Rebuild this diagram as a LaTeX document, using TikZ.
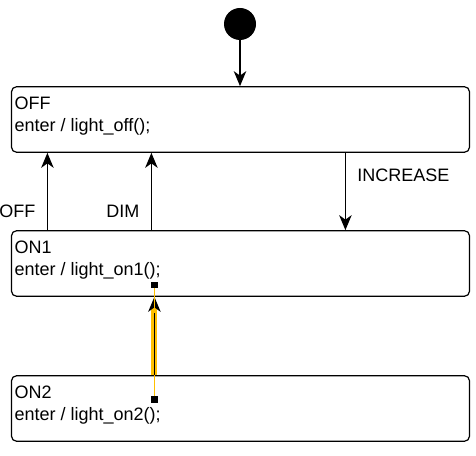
\documentclass[tikz,border=0pt]{standalone}
\usepackage{fontspec}
\setmainfont{Liberation Sans}
\usetikzlibrary{arrows.meta}
\definecolor{selyellow}{RGB}{255,192,0}

\begin{document}
\begin{tikzpicture}[x=1pt, y=1pt, every node/.style={font=\fontsize{18}{22}\selectfont},
    state/.style={draw, line width=1.2pt, rounded corners=5pt, minimum width=458pt, minimum height=65.5pt},
    statetext/.style={anchor=north west, inner sep=0pt, align=left},
    trans/.style={line width=1.3pt, -{Stealth[length=15pt, width=12.5pt, inset=4.5pt]}},
    handle/.style={fill=black, inner sep=0pt, minimum size=6.5pt}]
            \useasboundingbox (0,0) rectangle (476,455);

            \node[circle, fill=black, inner sep=0pt, minimum size=32pt] (init) at (240,431) {};

            \node[state] (off) at (240.5,335.5) {};
            \node[statetext] (off-txt) at ([shift={(3.5pt,-10.5pt)}]off.north west) {OFF\\enter / light\_off();};
            \node[state] (on1) at (240.5,191.5) {};
            \node[statetext] (on1-txt) at ([shift={(3.5pt,-10.5pt)}]on1.north west) {ON1\\enter / light\_on1();};
            \node[state] (on2) at (240.5,46.5) {};
            \node[statetext] (on2-txt) at ([shift={(3.5pt,-10.5pt)}]on2.north west) {ON2\\enter / light\_on2();};

            \draw[trans] (init) -- (init |- off.north);
            \draw[trans] ([xshift=36.5pt]on1.north west) -- ([xshift=36.5pt]off.south west)
               node[pos=0.24, left=8pt] (off-lbl) {OFF};
            \draw[trans] ([xshift=140.5pt]on1.north west) -- ([xshift=140.5pt]off.south west)
               node[pos=0.24, left=8pt] (dim-lbl) {DIM};
            \draw[trans] ([xshift=334.5pt]off.south west) -- ([xshift=334.5pt]on1.north west)
               node[pos=0.29, right=8pt] (inc-lbl) {INCREASE};

            % selected edge
            \coordinate (sel-top) at ([xshift=143.5pt]on1.south west);
            \coordinate (sel-bot) at ([xshift=143.5pt]on2.north west);
            \draw[selyellow, line width=6pt] (sel-bot) -- ([yshift=-11pt]sel-top);
            \draw[trans] (sel-bot) -- (sel-top);
            \draw[selyellow, line width=1pt] ([yshift=12pt]sel-top) -- ([yshift=-16pt]sel-top);
            \draw[selyellow, line width=1pt] (sel-bot) -- ([yshift=-24.5pt]sel-bot);
            \node[handle] (h1) at ([yshift=12pt]sel-top) {};
            \node[handle] (h2) at ([yshift=-24.5pt]sel-bot) {};
        \end{tikzpicture}
\end{document}
